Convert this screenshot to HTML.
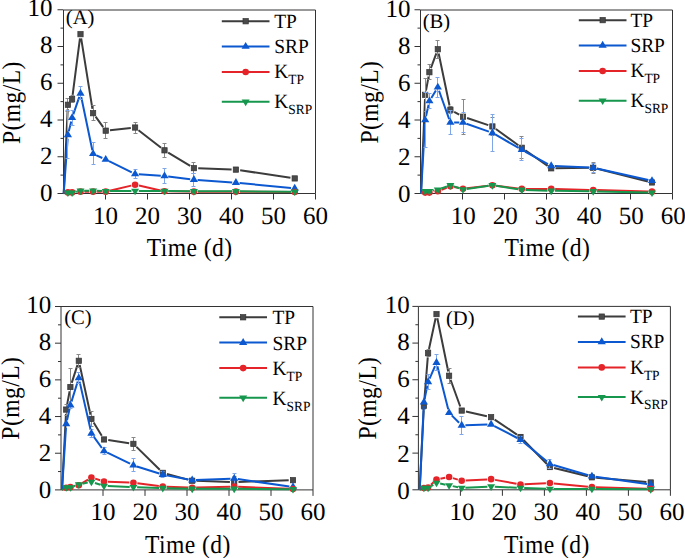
<!DOCTYPE html><html><head><meta charset="utf-8"><style>html,body{margin:0;padding:0;background:#fff;}body{width:685px;height:558px;overflow:hidden;}svg{display:block;}text{font-family:"Liberation Serif", serif;fill:#000;text-rendering:geometricPrecision;}</style></head><body>
<svg width="685" height="558" viewBox="0 0 685 558">
<rect width="685" height="558" fill="#fff"/>
<g id="pA"><path d="M63.5 10H315.5V193.5H63.5Z" stroke="#333" stroke-width="1" fill="none"/><path d="M57.5 193.5H63.5M60.5 175.12H63.5M57.5 156.75H63.5M60.5 138.38H63.5M57.5 120H63.5M60.5 101.62H63.5M57.5 83.25H63.5M60.5 64.88H63.5M57.5 46.5H63.5M60.5 28.12H63.5M57.5 9.75H63.5M105.5 193.5V199.5M147.5 193.5V199.5M189.5 193.5V199.5M231.5 193.5V199.5M273.5 193.5V199.5M315.5 193.5V199.5" stroke="#333" stroke-width="1" fill="none"/><path d="M63.7 193.5L67.7 109.04M72.65 94.79L79.95 38.45M81.18 38.44L92.42 108.95M95.62 116.69L103.18 127.17M109.98 130.2L130.82 127.99M138.5 130.17L161.1 147.68M168.18 152.55L190.22 165.91M198.2 168.29L231.6 169.46M240.15 170.25L290.45 177.79" stroke="#3c3c3c" stroke-width="2" fill="none"/><path d="M67.5 98.5V111.5M65.5 98.5H69.5M65.5 111.5H69.5M72.5 95.5V102.5M70.5 95.5H74.5M70.5 102.5H74.5M93.5 105.5V120.5M91.5 105.5H95.5M91.5 120.5H95.5M105.5 122.5V138.5M103.5 122.5H107.5M103.5 138.5H107.5M135.5 122.5V133.5M133.5 122.5H137.5M133.5 133.5H137.5M164.5 143.5V157.5M162.5 143.5H166.5M162.5 157.5H166.5M193.5 162.5V173.5M191.5 162.5H195.5M191.5 173.5H195.5" stroke="#888888" stroke-width="1" fill="none"/><rect x="65.25" y="102.1" width="5.3" height="5.3" fill="#4a4a4a" stroke="#333" stroke-width="0.7"/><rect x="69.45" y="96.4" width="5.3" height="5.3" fill="#4a4a4a" stroke="#333" stroke-width="0.7"/><rect x="77.85" y="31.54" width="5.3" height="5.3" fill="#4a4a4a" stroke="#333" stroke-width="0.7"/><rect x="90.45" y="110.55" width="5.3" height="5.3" fill="#4a4a4a" stroke="#333" stroke-width="0.7"/><rect x="103.05" y="128.01" width="5.3" height="5.3" fill="#4a4a4a" stroke="#333" stroke-width="0.7"/><rect x="132.45" y="124.88" width="5.3" height="5.3" fill="#4a4a4a" stroke="#333" stroke-width="0.7"/><rect x="161.85" y="147.67" width="5.3" height="5.3" fill="#4a4a4a" stroke="#333" stroke-width="0.7"/><rect x="191.25" y="165.49" width="5.3" height="5.3" fill="#4a4a4a" stroke="#333" stroke-width="0.7"/><rect x="233.25" y="166.96" width="5.3" height="5.3" fill="#4a4a4a" stroke="#333" stroke-width="0.7"/><rect x="292.05" y="175.78" width="5.3" height="5.3" fill="#4a4a4a" stroke="#333" stroke-width="0.7"/><path d="M63.7 193.5L67.64 138.57M68.78 131.29L71.22 121.39M73.3 114.3L79.3 96.86M81.25 96.98L92.35 150.19M96.47 155.33L102.33 157.98M109.02 161.14L131.78 172.38M138.79 174.28L160.81 175.79M168.17 176.5L190.23 179.26M197.59 179.98L232.21 182.4M239.58 183.02L291.02 188" stroke="#0C58D0" stroke-width="2" fill="none"/><path d="M67.5 110.5V158.5M65.5 110.5H69.5M65.5 158.5H69.5M72.5 110.5V125.5M70.5 110.5H74.5M70.5 125.5H74.5M80.5 86.5V99.5M78.5 86.5H82.5M78.5 99.5H82.5M93.5 142.5V164.5M91.5 142.5H95.5M91.5 164.5H95.5M135.5 169.5V178.5M133.5 169.5H137.5M133.5 178.5H137.5M164.5 168.5V183.5M162.5 168.5H166.5M162.5 183.5H166.5M193.5 173.5V186.5M191.5 173.5H195.5M191.5 186.5H195.5" stroke="#7fa6e8" stroke-width="1" fill="none"/><path d="M67.9 130.28L72 137.18L63.8 137.18Z" fill="#0C58D0"/><path d="M72.1 113.2L76.2 120.09L68 120.09Z" fill="#0C58D0"/><path d="M80.5 88.76L84.6 95.66L76.4 95.66Z" fill="#0C58D0"/><path d="M93.1 149.21L97.2 156.11L89 156.11Z" fill="#0C58D0"/><path d="M105.7 154.91L109.8 161.81L101.6 161.81Z" fill="#0C58D0"/><path d="M135.1 169.42L139.2 176.32L131 176.32Z" fill="#0C58D0"/><path d="M164.5 171.44L168.6 178.34L160.4 178.34Z" fill="#0C58D0"/><path d="M193.9 175.12L198 182.02L189.8 182.02Z" fill="#0C58D0"/><path d="M235.9 178.06L240 184.96L231.8 184.96Z" fill="#0C58D0"/><path d="M294.7 183.75L298.8 190.66L290.6 190.66Z" fill="#0C58D0"/><path d="M84.5 191.66L89.1 191.66M97.1 191.66L101.7 191.66M109.59 190.74L131.21 185.6M139 185.56L160.6 190.42M168.5 191.34L189.9 191.61M197.9 191.66L231.9 191.66M239.9 191.69L290.7 192.01" stroke="#E52429" stroke-width="2" fill="none"/><circle cx="67.9" cy="192.4" r="3.3" fill="#E52429"/><circle cx="72.1" cy="192.4" r="3.3" fill="#E52429"/><circle cx="80.5" cy="191.66" r="3.3" fill="#E52429"/><circle cx="93.1" cy="191.66" r="3.3" fill="#E52429"/><circle cx="105.7" cy="191.66" r="3.3" fill="#E52429"/><circle cx="135.1" cy="184.68" r="3.3" fill="#E52429"/><circle cx="164.5" cy="191.29" r="3.3" fill="#E52429"/><circle cx="193.9" cy="191.66" r="3.3" fill="#E52429"/><circle cx="235.9" cy="191.66" r="3.3" fill="#E52429"/><circle cx="294.7" cy="192.03" r="3.3" fill="#E52429"/><path d="M63.7 193.5L64.29 193.37M75.71 191.79L76.89 191.53M84.2 190.74L89.4 190.74M96.8 190.85L102 191M109.4 191.09L131.4 190.95M138.8 190.93L160.8 190.93M168.2 190.97L190.2 191.25M197.6 191.29L232.2 191.29M239.6 191.32L291 191.64" stroke="#16974D" stroke-width="2" fill="none"/><path d="M67.9 196.98L71.9 190.38L63.9 190.38Z" fill="#16974D"/><path d="M72.1 196.98L76.1 190.38L68.1 190.38Z" fill="#16974D"/><path d="M80.5 195.14L84.5 188.54L76.5 188.54Z" fill="#16974D"/><path d="M93.1 195.14L97.1 188.54L89.1 188.54Z" fill="#16974D"/><path d="M105.7 195.51L109.7 188.91L101.7 188.91Z" fill="#16974D"/><path d="M135.1 195.33L139.1 188.73L131.1 188.73Z" fill="#16974D"/><path d="M164.5 195.33L168.5 188.73L160.5 188.73Z" fill="#16974D"/><path d="M193.9 195.69L197.9 189.09L189.9 189.09Z" fill="#16974D"/><path d="M235.9 195.69L239.9 189.09L231.9 189.09Z" fill="#16974D"/><path d="M294.7 196.06L298.7 189.46L290.7 189.46Z" fill="#16974D"/><text transform="translate(52.6 201.35) scale(1.0 1)" font-size="25" text-anchor="end">0</text><text transform="translate(52.6 164.36) scale(1.0 1)" font-size="25" text-anchor="end">2</text><text transform="translate(52.6 127.37) scale(1.0 1)" font-size="25" text-anchor="end">4</text><text transform="translate(52.6 90.38) scale(1.0 1)" font-size="25" text-anchor="end">6</text><text transform="translate(52.6 53.39) scale(1.0 1)" font-size="25" text-anchor="end">8</text><text transform="translate(52.6 16.4) scale(1.0 1)" font-size="25" text-anchor="end">10</text><text transform="translate(105.5 224) scale(1.0 1)" font-size="25" text-anchor="middle">10</text><text transform="translate(147.5 224) scale(1.0 1)" font-size="25" text-anchor="middle">20</text><text transform="translate(189.5 224) scale(1.0 1)" font-size="25" text-anchor="middle">30</text><text transform="translate(231.5 224) scale(1.0 1)" font-size="25" text-anchor="middle">40</text><text transform="translate(273.5 224) scale(1.0 1)" font-size="25" text-anchor="middle">50</text><text transform="translate(315.5 224) scale(1.0 1)" font-size="25" text-anchor="middle">60</text><text transform="translate(189.72 256.1) scale(0.915 1)" font-size="25.8" text-anchor="middle" letter-spacing="0.45">Time (d)</text><text transform="translate(19.7 102.62) rotate(-90) scale(0.915 1)" font-size="25.8" letter-spacing="0.45" text-anchor="middle">P(mg/L)</text><text transform="translate(65.8 24.05) scale(1.0 1)" font-size="20.6">(A)</text><path d="M221.8 21.25H245.65M245.65 21.25H269.5" stroke="#3c3c3c" stroke-width="2"/><rect x="243" y="18.6" width="5.3" height="5.3" fill="#4a4a4a" stroke="#333" stroke-width="0.7"/><text transform="translate(274.2 27.55) scale(0.96 1)" font-size="20.2">TP</text><path d="M221.8 46.55H245.65M245.65 46.55H269.5" stroke="#0C58D0" stroke-width="2"/><path d="M245.65 41.95L249.75 48.85L241.55 48.85Z" fill="#0C58D0"/><text transform="translate(274.2 52.85) scale(0.96 1)" font-size="20.2">SRP</text><path d="M221.8 72.05H245.65M245.65 72.05H269.5" stroke="#E52429" stroke-width="2"/><circle cx="245.65" cy="72.05" r="3.3" fill="#E52429"/><text transform="translate(274.2 78.35) scale(0.96 1)" font-size="20.2">K<tspan font-size="14" dy="5.9">TP</tspan></text><path d="M221.8 101.75H245.65M245.65 101.75H269.5" stroke="#16974D" stroke-width="2"/><path d="M245.65 106.15L249.65 99.55L241.65 99.55Z" fill="#16974D"/><text transform="translate(274.2 108.05) scale(0.96 1)" font-size="20.2">K<tspan font-size="14" dy="5.9">SRP</tspan></text></g>
<g id="pB"><path d="M420.5 10H672.5V193.5H420.5Z" stroke="#333" stroke-width="1" fill="none"/><path d="M414.5 193.5H420.5M417.5 175.12H420.5M414.5 156.75H420.5M417.5 138.38H420.5M414.5 120H420.5M417.5 101.62H420.5M414.5 83.25H420.5M417.5 64.88H420.5M414.5 46.5H420.5M417.5 28.12H420.5M414.5 9.75H420.5M462.5 193.5V199.5M504.5 193.5V199.5M546.5 193.5V199.5M588.5 193.5V199.5M630.5 193.5V199.5M672.5 193.5V199.5" stroke="#333" stroke-width="1" fill="none"/><path d="M421 193.5L425.02 99.12M425.99 90.6L428.61 76.45M430.88 68.19L436.32 53.29M438.68 53.47L449.52 105.5M454.16 111.79L459.24 114.61M467.08 118.04L488.32 125.08M495.88 128.96L518.32 145.22M525.32 150.21L547.68 165.86M555.5 168.27L588.9 167.83M597.37 168.82L647.83 181.43" stroke="#3c3c3c" stroke-width="2" fill="none"/><path d="M425.5 78.5V111.5M423.5 78.5H427.5M423.5 111.5H427.5M429.5 64.5V79.5M427.5 64.5H431.5M427.5 79.5H431.5M437.5 40.5V58.5M435.5 40.5H439.5M435.5 58.5H439.5M450.5 106.5V113.5M448.5 106.5H452.5M448.5 113.5H452.5M463.5 99.5V134.5M461.5 99.5H465.5M461.5 134.5H465.5M492.5 117.5V135.5M490.5 117.5H494.5M490.5 135.5H494.5M521.5 136.5V158.5M519.5 136.5H523.5M519.5 158.5H523.5M593.5 162.5V173.5M591.5 162.5H595.5M591.5 173.5H595.5" stroke="#888888" stroke-width="1" fill="none"/><rect x="422.55" y="92.18" width="5.3" height="5.3" fill="#4a4a4a" stroke="#333" stroke-width="0.7"/><rect x="426.75" y="69.58" width="5.3" height="5.3" fill="#4a4a4a" stroke="#333" stroke-width="0.7"/><rect x="435.15" y="46.61" width="5.3" height="5.3" fill="#4a4a4a" stroke="#333" stroke-width="0.7"/><rect x="447.75" y="107.06" width="5.3" height="5.3" fill="#4a4a4a" stroke="#333" stroke-width="0.7"/><rect x="460.35" y="114.04" width="5.3" height="5.3" fill="#4a4a4a" stroke="#333" stroke-width="0.7"/><rect x="489.75" y="123.78" width="5.3" height="5.3" fill="#4a4a4a" stroke="#333" stroke-width="0.7"/><rect x="519.15" y="145.1" width="5.3" height="5.3" fill="#4a4a4a" stroke="#333" stroke-width="0.7"/><rect x="548.55" y="165.68" width="5.3" height="5.3" fill="#4a4a4a" stroke="#333" stroke-width="0.7"/><rect x="590.55" y="165.12" width="5.3" height="5.3" fill="#4a4a4a" stroke="#333" stroke-width="0.7"/><rect x="649.35" y="179.82" width="5.3" height="5.3" fill="#4a4a4a" stroke="#333" stroke-width="0.7"/><path d="M421 193.5L424.99 123.69M426 116.39L428.6 104.69M431.33 97.91L435.87 90.45M439.04 90.78L449.16 119.09M454.1 122.57L459.3 122.57M466.49 123.79L488.91 131.64M495.61 134.71L518.59 147.92M525.04 151.55L547.96 164.15M554.9 166.1L589.5 167.61M596.81 168.58L648.39 180.02" stroke="#0C58D0" stroke-width="2" fill="none"/><path d="M425.5 92.5V147.5M423.5 92.5H427.5M423.5 147.5H427.5M429.5 93.5V108.5M427.5 93.5H431.5M427.5 108.5H431.5M437.5 77.5V97.5M435.5 77.5H439.5M435.5 97.5H439.5M450.5 110.5V134.5M448.5 110.5H452.5M448.5 134.5H452.5M463.5 112.5V132.5M461.5 112.5H465.5M461.5 132.5H465.5M492.5 114.5V151.5M490.5 114.5H494.5M490.5 151.5H494.5M521.5 138.5V160.5M519.5 138.5H523.5M519.5 160.5H523.5M593.5 163.5V172.5M591.5 163.5H595.5M591.5 172.5H595.5" stroke="#7fa6e8" stroke-width="1" fill="none"/><path d="M425.2 115.4L429.3 122.3L421.1 122.3Z" fill="#0C58D0"/><path d="M429.4 96.47L433.5 103.37L425.3 103.37Z" fill="#0C58D0"/><path d="M437.8 82.69L441.9 89.59L433.7 89.59Z" fill="#0C58D0"/><path d="M450.4 117.97L454.5 124.87L446.3 124.87Z" fill="#0C58D0"/><path d="M463 117.97L467.1 124.87L458.9 124.87Z" fill="#0C58D0"/><path d="M492.4 128.26L496.5 135.16L488.3 135.16Z" fill="#0C58D0"/><path d="M521.8 145.17L525.9 152.07L517.7 152.07Z" fill="#0C58D0"/><path d="M551.2 161.34L555.3 168.24L547.1 168.24Z" fill="#0C58D0"/><path d="M593.2 163.18L597.3 170.08L589.1 170.08Z" fill="#0C58D0"/><path d="M652 176.22L656.1 183.12L647.9 183.12Z" fill="#0C58D0"/><path d="M441.52 189.83L446.68 187.8M454.33 187.08L459.07 187.98M466.97 188.25L488.43 185.7M496.37 185.73L517.83 188.41M525.8 188.91L547.2 188.91M555.2 189.01L589.2 189.9M597.2 190.12L648 191.55" stroke="#E52429" stroke-width="2" fill="none"/><circle cx="425.2" cy="192.58" r="3.3" fill="#E52429"/><circle cx="429.4" cy="192.58" r="3.3" fill="#E52429"/><circle cx="437.8" cy="191.29" r="3.3" fill="#E52429"/><circle cx="450.4" cy="186.33" r="3.3" fill="#E52429"/><circle cx="463" cy="188.72" r="3.3" fill="#E52429"/><circle cx="492.4" cy="185.23" r="3.3" fill="#E52429"/><circle cx="521.8" cy="188.91" r="3.3" fill="#E52429"/><circle cx="551.2" cy="188.91" r="3.3" fill="#E52429"/><circle cx="593.2" cy="190.01" r="3.3" fill="#E52429"/><circle cx="652" cy="191.66" r="3.3" fill="#E52429"/><path d="M421 193.5L421.98 192.94M433.06 190.55L434.14 190.39M441.28 188.56L446.92 186.5M453.91 186.41L459.49 188.28M466.66 188.93L488.74 185.76M496.06 185.8L518.14 189.25M525.5 189.94L547.5 190.63M554.9 190.79L589.5 191.25M596.9 191.38L648.3 192.5" stroke="#16974D" stroke-width="2" fill="none"/><path d="M425.2 195.51L429.2 188.91L421.2 188.91Z" fill="#16974D"/><path d="M429.4 195.51L433.4 188.91L425.4 188.91Z" fill="#16974D"/><path d="M437.8 194.22L441.8 187.62L433.8 187.62Z" fill="#16974D"/><path d="M450.4 189.63L454.4 183.03L446.4 183.03Z" fill="#16974D"/><path d="M463 193.86L467 187.26L459 187.26Z" fill="#16974D"/><path d="M492.4 189.63L496.4 183.03L488.4 183.03Z" fill="#16974D"/><path d="M521.8 194.22L525.8 187.62L517.8 187.62Z" fill="#16974D"/><path d="M551.2 195.14L555.2 188.54L547.2 188.54Z" fill="#16974D"/><path d="M593.2 195.69L597.2 189.09L589.2 189.09Z" fill="#16974D"/><path d="M652 196.98L656 190.38L648 190.38Z" fill="#16974D"/><text transform="translate(410.4 201.75) scale(1.0 1)" font-size="25" text-anchor="end">0</text><text transform="translate(410.4 164.8) scale(1.0 1)" font-size="25" text-anchor="end">2</text><text transform="translate(410.4 127.85) scale(1.0 1)" font-size="25" text-anchor="end">4</text><text transform="translate(410.4 90.9) scale(1.0 1)" font-size="25" text-anchor="end">6</text><text transform="translate(410.4 53.95) scale(1.0 1)" font-size="25" text-anchor="end">8</text><text transform="translate(410.4 17) scale(1.0 1)" font-size="25" text-anchor="end">10</text><text transform="translate(463.3 224) scale(1.0 1)" font-size="25" text-anchor="middle">10</text><text transform="translate(505.3 224) scale(1.0 1)" font-size="25" text-anchor="middle">20</text><text transform="translate(547.3 224) scale(1.0 1)" font-size="25" text-anchor="middle">30</text><text transform="translate(589.3 224) scale(1.0 1)" font-size="25" text-anchor="middle">40</text><text transform="translate(631.3 224) scale(1.0 1)" font-size="25" text-anchor="middle">50</text><text transform="translate(673.3 224) scale(1.0 1)" font-size="25" text-anchor="middle">60</text><text transform="translate(547.43 256.1) scale(0.915 1)" font-size="25.8" text-anchor="middle" letter-spacing="0.45">Time (d)</text><text transform="translate(377.6 102.12) rotate(-90) scale(0.915 1)" font-size="25.8" letter-spacing="0.45" text-anchor="middle">P(mg/L)</text><text transform="translate(422.7 28.05) scale(1.0 1)" font-size="20.6">(B)</text><path d="M578.8 20.15H602.65M602.65 20.15H626.5" stroke="#3c3c3c" stroke-width="2"/><rect x="600" y="17.5" width="5.3" height="5.3" fill="#4a4a4a" stroke="#333" stroke-width="0.7"/><text transform="translate(630.4 26.55) scale(0.96 1)" font-size="20.2">TP</text><path d="M578.8 45.45H602.65M602.65 45.45H626.5" stroke="#0C58D0" stroke-width="2"/><path d="M602.65 40.85L606.75 47.75L598.55 47.75Z" fill="#0C58D0"/><text transform="translate(630.4 51.85) scale(0.96 1)" font-size="20.2">SRP</text><path d="M578.8 70.95H602.65M602.65 70.95H626.5" stroke="#E52429" stroke-width="2"/><circle cx="602.65" cy="70.95" r="3.3" fill="#E52429"/><text transform="translate(630.4 77.35) scale(0.96 1)" font-size="20.2">K<tspan font-size="14" dy="5.9">TP</tspan></text><path d="M578.8 100.65H602.65M602.65 100.65H626.5" stroke="#16974D" stroke-width="2"/><path d="M602.65 105.05L606.65 98.45L598.65 98.45Z" fill="#16974D"/><text transform="translate(630.4 107.05) scale(0.96 1)" font-size="20.2">K<tspan font-size="14" dy="5.9">SRP</tspan></text></g>
<g id="pC"><path d="M61 306.5H313V489.9H61Z" stroke="#333" stroke-width="1" fill="none"/><path d="M55 489.9H61M58 471.56H61M55 453.22H61M58 434.88H61M55 416.54H61M58 398.2H61M55 379.86H61M58 361.52H61M55 343.18H61M58 324.84H61M55 306.5H61M103 489.9V495.9M145 489.9V495.9M187 489.9V495.9M229 489.9V495.9M271 489.9V495.9M313 489.9V495.9" stroke="#333" stroke-width="1" fill="none"/><path d="M62 489.9L65.98 413.86M66.99 405.34L69.61 391.24M71.71 382.92L77.49 364.88M79.71 364.99L90.49 414.72M93.65 422.59L101.75 435.8M108.25 440.1L129.15 443.23M136.46 446.89L159.74 469.83M166.95 473.96L188.05 479.62M196.5 480.86L229.9 481.88M238.5 481.88L288.7 480.31" stroke="#3c3c3c" stroke-width="2" fill="none"/><path d="M66.5 404.5V415.5M64.5 404.5H68.5M64.5 415.5H68.5M70.5 368.5V405.5M68.5 368.5H72.5M68.5 405.5H72.5M78.5 354.5V367.5M76.5 354.5H80.5M76.5 367.5H80.5M91.5 411.5V426.5M89.5 411.5H93.5M89.5 426.5H93.5M133.5 437.5V450.5M131.5 437.5H135.5M131.5 450.5H135.5M234.5 476.5V487.5M232.5 476.5H236.5M232.5 487.5H236.5" stroke="#888888" stroke-width="1" fill="none"/><rect x="63.55" y="406.92" width="5.3" height="5.3" fill="#4a4a4a" stroke="#333" stroke-width="0.7"/><rect x="67.75" y="384.36" width="5.3" height="5.3" fill="#4a4a4a" stroke="#333" stroke-width="0.7"/><rect x="76.15" y="358.14" width="5.3" height="5.3" fill="#4a4a4a" stroke="#333" stroke-width="0.7"/><rect x="88.75" y="416.27" width="5.3" height="5.3" fill="#4a4a4a" stroke="#333" stroke-width="0.7"/><rect x="101.35" y="436.81" width="5.3" height="5.3" fill="#4a4a4a" stroke="#333" stroke-width="0.7"/><rect x="130.75" y="441.22" width="5.3" height="5.3" fill="#4a4a4a" stroke="#333" stroke-width="0.7"/><rect x="160.15" y="470.19" width="5.3" height="5.3" fill="#4a4a4a" stroke="#333" stroke-width="0.7"/><rect x="189.55" y="478.08" width="5.3" height="5.3" fill="#4a4a4a" stroke="#333" stroke-width="0.7"/><rect x="231.55" y="479.36" width="5.3" height="5.3" fill="#4a4a4a" stroke="#333" stroke-width="0.7"/><rect x="290.35" y="477.53" width="5.3" height="5.3" fill="#4a4a4a" stroke="#333" stroke-width="0.7"/><path d="M62 489.9L65.97 427.57M67.01 420.27L69.59 408.78M71.49 401.63L77.71 381.56M79.62 381.63L90.58 429.8M93.55 436.42L101.85 448.01M107.33 452.64L130.07 463.71M136.93 466.45L159.27 473.56M166.44 475.36L188.56 479.5M195.9 480.03L230.5 478.67M237.86 479.05L289.34 486.44" stroke="#0C58D0" stroke-width="2" fill="none"/><path d="M70.5 401.5V408.5M68.5 401.5H72.5M68.5 408.5H72.5M78.5 372.5V383.5M76.5 372.5H80.5M76.5 383.5H80.5M91.5 429.5V437.5M89.5 429.5H93.5M89.5 437.5H93.5M104.5 447.5V454.5M102.5 447.5H106.5M102.5 454.5H106.5M133.5 458.5V471.5M131.5 458.5H135.5M131.5 471.5H135.5M162.5 471.5V477.5M160.5 471.5H164.5M160.5 477.5H164.5M234.5 473.5V484.5M232.5 473.5H236.5M232.5 484.5H236.5" stroke="#7fa6e8" stroke-width="1" fill="none"/><path d="M66.2 419.28L70.3 426.18L62.1 426.18Z" fill="#0C58D0"/><path d="M70.4 400.57L74.5 407.47L66.3 407.47Z" fill="#0C58D0"/><path d="M78.8 373.43L82.9 380.33L74.7 380.33Z" fill="#0C58D0"/><path d="M91.4 428.81L95.5 435.71L87.3 435.71Z" fill="#0C58D0"/><path d="M104 446.42L108.1 453.32L99.9 453.32Z" fill="#0C58D0"/><path d="M133.4 460.72L137.5 467.62L129.3 467.62Z" fill="#0C58D0"/><path d="M162.8 470.08L166.9 476.98L158.7 476.98Z" fill="#0C58D0"/><path d="M192.2 475.58L196.3 482.48L188.1 482.48Z" fill="#0C58D0"/><path d="M234.2 473.93L238.3 480.83L230.1 480.83Z" fill="#0C58D0"/><path d="M293 482.37L297.1 489.27L288.9 489.27Z" fill="#0C58D0"/><path d="M62 489.9L62.66 489.56M74.31 486.3L74.89 486.17M82.19 483.19L88.01 479.55M95.21 478.65L100.19 480.24M108 481.64L129.4 482.57M137.37 483.27L158.83 486.08M166.8 486.75L188.2 487.55M196.2 487.59L230.2 486.7M238.2 486.76L289 488.82" stroke="#E52429" stroke-width="2" fill="none"/><circle cx="66.2" cy="487.7" r="3.3" fill="#E52429"/><circle cx="70.4" cy="487.15" r="3.3" fill="#E52429"/><circle cx="78.8" cy="485.31" r="3.3" fill="#E52429"/><circle cx="91.4" cy="477.43" r="3.3" fill="#E52429"/><circle cx="104" cy="481.46" r="3.3" fill="#E52429"/><circle cx="133.4" cy="482.75" r="3.3" fill="#E52429"/><circle cx="162.8" cy="486.6" r="3.3" fill="#E52429"/><circle cx="192.2" cy="487.7" r="3.3" fill="#E52429"/><circle cx="234.2" cy="486.6" r="3.3" fill="#E52429"/><circle cx="293" cy="488.98" r="3.3" fill="#E52429"/><path d="M62 489.9L63.04 489.26M73.89 486.11L75.31 485.62M82.43 483.66L87.77 482.57M94.92 482.96L100.48 484.74M107.7 486.03L129.7 486.99M137.1 487.26L159.1 487.95M166.5 488.16L188.5 488.71M195.9 488.8L230.5 488.8M237.9 488.82L289.3 489.14" stroke="#16974D" stroke-width="2" fill="none"/><path d="M66.2 491.73L70.2 485.13L62.2 485.13Z" fill="#16974D"/><path d="M70.4 491.73L74.4 485.13L66.4 485.13Z" fill="#16974D"/><path d="M78.8 488.8L82.8 482.2L74.8 482.2Z" fill="#16974D"/><path d="M91.4 486.23L95.4 479.63L87.4 479.63Z" fill="#16974D"/><path d="M104 490.27L108 483.67L100 483.67Z" fill="#16974D"/><path d="M133.4 491.55L137.4 484.95L129.4 484.95Z" fill="#16974D"/><path d="M162.8 492.47L166.8 485.87L158.8 485.87Z" fill="#16974D"/><path d="M192.2 493.2L196.2 486.6L188.2 486.6Z" fill="#16974D"/><path d="M234.2 493.2L238.2 486.6L230.2 486.6Z" fill="#16974D"/><path d="M293 493.57L297 486.97L289 486.97Z" fill="#16974D"/><text transform="translate(51.2 498.15) scale(1.0 1)" font-size="25" text-anchor="end">0</text><text transform="translate(51.2 461.05) scale(1.0 1)" font-size="25" text-anchor="end">2</text><text transform="translate(51.2 423.95) scale(1.0 1)" font-size="25" text-anchor="end">4</text><text transform="translate(51.2 386.85) scale(1.0 1)" font-size="25" text-anchor="end">6</text><text transform="translate(51.2 349.75) scale(1.0 1)" font-size="25" text-anchor="end">8</text><text transform="translate(51.2 312.65) scale(1.0 1)" font-size="25" text-anchor="end">10</text><text transform="translate(103 520.4) scale(1.0 1)" font-size="25" text-anchor="middle">10</text><text transform="translate(145 520.4) scale(1.0 1)" font-size="25" text-anchor="middle">20</text><text transform="translate(187 520.4) scale(1.0 1)" font-size="25" text-anchor="middle">30</text><text transform="translate(229 520.4) scale(1.0 1)" font-size="25" text-anchor="middle">40</text><text transform="translate(271 520.4) scale(1.0 1)" font-size="25" text-anchor="middle">50</text><text transform="translate(313 520.4) scale(1.0 1)" font-size="25" text-anchor="middle">60</text><text transform="translate(187.92 552.5) scale(0.915 1)" font-size="25.8" text-anchor="middle" letter-spacing="0.45">Time (d)</text><text transform="translate(18.5 398.2) rotate(-90) scale(0.915 1)" font-size="25.8" letter-spacing="0.45" text-anchor="middle">P(mg/L)</text><text transform="translate(64.2 323.9) scale(1.0 1)" font-size="20.6">(C)</text><path d="M219.3 317.3H243.15M243.15 317.3H267" stroke="#3c3c3c" stroke-width="2"/><rect x="240.5" y="314.65" width="5.3" height="5.3" fill="#4a4a4a" stroke="#333" stroke-width="0.7"/><text transform="translate(272.5 324.3) scale(0.96 1)" font-size="20.2">TP</text><path d="M219.3 342.6H243.15M243.15 342.6H267" stroke="#0C58D0" stroke-width="2"/><path d="M243.15 338L247.25 344.9L239.05 344.9Z" fill="#0C58D0"/><text transform="translate(272.5 349.6) scale(0.96 1)" font-size="20.2">SRP</text><path d="M219.3 368.1H243.15M243.15 368.1H267" stroke="#E52429" stroke-width="2"/><circle cx="243.15" cy="368.1" r="3.3" fill="#E52429"/><text transform="translate(272.5 375.1) scale(0.96 1)" font-size="20.2">K<tspan font-size="14" dy="5.9">TP</tspan></text><path d="M219.3 397.8H243.15M243.15 397.8H267" stroke="#16974D" stroke-width="2"/><path d="M243.15 402.2L247.15 395.6L239.15 395.6Z" fill="#16974D"/><text transform="translate(272.5 404.8) scale(0.96 1)" font-size="20.2">K<tspan font-size="14" dy="5.9">SRP</tspan></text></g>
<g id="pD"><path d="M418.4 306.4H670.4V489.8H418.4Z" stroke="#333" stroke-width="1" fill="none"/><path d="M412.4 489.8H418.4M415.4 471.46H418.4M412.4 453.12H418.4M415.4 434.78H418.4M412.4 416.44H418.4M415.4 398.1H418.4M412.4 379.76H418.4M415.4 361.42H418.4M412.4 343.08H418.4M415.4 324.74H418.4M412.4 306.4H418.4M460.4 489.8V495.8M502.4 489.8V495.8M544.4 489.8V495.8M586.4 489.8V495.8M628.4 489.8V495.8M670.4 489.8V495.8" stroke="#333" stroke-width="1" fill="none"/><path d="M419.7 489.8L423.68 410.28M424.24 401.7L427.76 357.45M429 348.96L435.6 318.31M437.36 318.32L448.24 371.51M450.56 379.77L460.24 406.53M465.9 411.51L486.9 416.23M494.67 419.58L516.93 434.58M523.51 440.06L546.89 463.98M554.08 468.08L587.72 476.31M596.18 477.7L646.42 482.09" stroke="#3c3c3c" stroke-width="2" fill="none"/><path d="M423.5 402.5V409.5M421.5 402.5H425.5M421.5 409.5H425.5M428.5 349.5V356.5M426.5 349.5H430.5M426.5 356.5H430.5M449.5 368.5V383.5M447.5 368.5H451.5M447.5 383.5H451.5M520.5 434.5V439.5M518.5 434.5H522.5M518.5 439.5H522.5M549.5 464.5V469.5M547.5 464.5H551.5M547.5 469.5H551.5" stroke="#888888" stroke-width="1" fill="none"/><rect x="421.25" y="403.34" width="5.3" height="5.3" fill="#4a4a4a" stroke="#333" stroke-width="0.7"/><rect x="425.45" y="350.52" width="5.3" height="5.3" fill="#4a4a4a" stroke="#333" stroke-width="0.7"/><rect x="433.85" y="311.45" width="5.3" height="5.3" fill="#4a4a4a" stroke="#333" stroke-width="0.7"/><rect x="446.45" y="373.08" width="5.3" height="5.3" fill="#4a4a4a" stroke="#333" stroke-width="0.7"/><rect x="459.05" y="407.92" width="5.3" height="5.3" fill="#4a4a4a" stroke="#333" stroke-width="0.7"/><rect x="488.45" y="414.52" width="5.3" height="5.3" fill="#4a4a4a" stroke="#333" stroke-width="0.7"/><rect x="517.85" y="434.33" width="5.3" height="5.3" fill="#4a4a4a" stroke="#333" stroke-width="0.7"/><rect x="547.25" y="464.41" width="5.3" height="5.3" fill="#4a4a4a" stroke="#333" stroke-width="0.7"/><rect x="589.25" y="474.68" width="5.3" height="5.3" fill="#4a4a4a" stroke="#333" stroke-width="0.7"/><rect x="648.05" y="479.81" width="5.3" height="5.3" fill="#4a4a4a" stroke="#333" stroke-width="0.7"/><path d="M419.7 489.8L423.72 406.01M424.65 398.69L427.35 385.58M429.58 378.57L435.02 366.1M437.4 366.29L448.2 409.18M451.71 415.39L459.09 422.8M465.4 425.29L487.4 424.46M494.38 426.04L517.22 438.01M523.36 442.08L547.04 461.59M553.45 464.98L588.35 475.19M595.56 476.74L647.04 483.97" stroke="#0C58D0" stroke-width="2" fill="none"/><path d="M428.5 374.5V389.5M426.5 374.5H430.5M426.5 389.5H430.5M436.5 354.5V370.5M434.5 354.5H438.5M434.5 370.5H438.5M461.5 416.5V434.5M459.5 416.5H463.5M459.5 434.5H463.5M520.5 436.5V443.5M518.5 436.5H522.5M518.5 443.5H522.5M549.5 459.5V468.5M547.5 459.5H551.5M547.5 468.5H551.5" stroke="#7fa6e8" stroke-width="1" fill="none"/><path d="M423.9 397.72L428 404.62L419.8 404.62Z" fill="#0C58D0"/><path d="M428.1 377.36L432.2 384.26L424 384.26Z" fill="#0C58D0"/><path d="M436.5 358.1L440.6 365L432.4 365Z" fill="#0C58D0"/><path d="M449.1 408.17L453.2 415.07L445 415.07Z" fill="#0C58D0"/><path d="M461.7 420.83L465.8 427.73L457.6 427.73Z" fill="#0C58D0"/><path d="M491.1 419.73L495.2 426.63L487 426.63Z" fill="#0C58D0"/><path d="M520.5 435.13L524.6 442.03L516.4 442.03Z" fill="#0C58D0"/><path d="M549.9 459.34L554 466.24L545.8 466.24Z" fill="#0C58D0"/><path d="M591.9 471.63L596 478.53L587.8 478.53Z" fill="#0C58D0"/><path d="M650.7 479.88L654.8 486.78L646.6 486.78Z" fill="#0C58D0"/><path d="M419.7 489.8L420.23 489.57M430.98 484.83L433.62 482.3M440.42 478.73L445.18 477.76M452.93 478.13L457.87 479.64M465.69 480.59L487.11 479.39M495.04 479.87L516.56 483.77M524.5 484.28L545.9 483.21M553.88 483.4L587.92 486.67M595.9 487.17L646.7 488.76" stroke="#E52429" stroke-width="2" fill="none"/><circle cx="423.9" cy="487.97" r="3.3" fill="#E52429"/><circle cx="428.1" cy="487.6" r="3.3" fill="#E52429"/><circle cx="436.5" cy="479.53" r="3.3" fill="#E52429"/><circle cx="449.1" cy="476.96" r="3.3" fill="#E52429"/><circle cx="461.7" cy="480.81" r="3.3" fill="#E52429"/><circle cx="491.1" cy="479.16" r="3.3" fill="#E52429"/><circle cx="520.5" cy="484.48" r="3.3" fill="#E52429"/><circle cx="549.9" cy="483.01" r="3.3" fill="#E52429"/><circle cx="591.9" cy="487.05" r="3.3" fill="#E52429"/><circle cx="650.7" cy="488.88" r="3.3" fill="#E52429"/><path d="M419.7 489.8L420.51 489.45M431.26 486.04L433.34 484.76M440.13 483.57L445.47 484.66M452.73 486.14L458.07 487.23M465.4 487.78L487.4 486.68M494.8 486.68L516.8 487.78M524.2 488.08L546.2 488.77M553.6 488.88L588.2 488.88M595.6 488.91L647 489.23" stroke="#16974D" stroke-width="2" fill="none"/><path d="M423.9 492.37L427.9 485.77L419.9 485.77Z" fill="#16974D"/><path d="M428.1 492.37L432.1 485.77L424.1 485.77Z" fill="#16974D"/><path d="M436.5 487.23L440.5 480.63L432.5 480.63Z" fill="#16974D"/><path d="M449.1 489.8L453.1 483.2L445.1 483.2Z" fill="#16974D"/><path d="M461.7 492.37L465.7 485.77L457.7 485.77Z" fill="#16974D"/><path d="M491.1 490.9L495.1 484.3L487.1 484.3Z" fill="#16974D"/><path d="M520.5 492.37L524.5 485.77L516.5 485.77Z" fill="#16974D"/><path d="M549.9 493.28L553.9 486.68L545.9 486.68Z" fill="#16974D"/><path d="M591.9 493.28L595.9 486.68L587.9 486.68Z" fill="#16974D"/><path d="M650.7 493.65L654.7 487.05L646.7 487.05Z" fill="#16974D"/><text transform="translate(409.8 498.65) scale(1.0 1)" font-size="25" text-anchor="end">0</text><text transform="translate(409.8 461.51) scale(1.0 1)" font-size="25" text-anchor="end">2</text><text transform="translate(409.8 424.37) scale(1.0 1)" font-size="25" text-anchor="end">4</text><text transform="translate(409.8 387.23) scale(1.0 1)" font-size="25" text-anchor="end">6</text><text transform="translate(409.8 350.09) scale(1.0 1)" font-size="25" text-anchor="end">8</text><text transform="translate(409.8 312.95) scale(1.0 1)" font-size="25" text-anchor="end">10</text><text transform="translate(461.9 520.3) scale(1.0 1)" font-size="25" text-anchor="middle">10</text><text transform="translate(503.9 520.3) scale(1.0 1)" font-size="25" text-anchor="middle">20</text><text transform="translate(545.9 520.3) scale(1.0 1)" font-size="25" text-anchor="middle">30</text><text transform="translate(587.9 520.3) scale(1.0 1)" font-size="25" text-anchor="middle">40</text><text transform="translate(629.9 520.3) scale(1.0 1)" font-size="25" text-anchor="middle">50</text><text transform="translate(671.9 520.3) scale(1.0 1)" font-size="25" text-anchor="middle">60</text><text transform="translate(546.83 552.9) scale(0.915 1)" font-size="25.8" text-anchor="middle" letter-spacing="0.45">Time (d)</text><text transform="translate(376.3 398.1) rotate(-90) scale(0.915 1)" font-size="25.8" letter-spacing="0.45" text-anchor="middle">P(mg/L)</text><text transform="translate(445.9 324.6) scale(1.0 1)" font-size="20.6">(D)</text><path d="M577.9 316.6H601.75M601.75 316.6H625.6" stroke="#3c3c3c" stroke-width="2"/><rect x="599.1" y="313.95" width="5.3" height="5.3" fill="#4a4a4a" stroke="#333" stroke-width="0.7"/><text transform="translate(629.9 323) scale(0.96 1)" font-size="20.2">TP</text><path d="M577.9 341.9H601.75M601.75 341.9H625.6" stroke="#0C58D0" stroke-width="2"/><path d="M601.75 337.3L605.85 344.2L597.65 344.2Z" fill="#0C58D0"/><text transform="translate(629.9 348.3) scale(0.96 1)" font-size="20.2">SRP</text><path d="M577.9 367.4H601.75M601.75 367.4H625.6" stroke="#E52429" stroke-width="2"/><circle cx="601.75" cy="367.4" r="3.3" fill="#E52429"/><text transform="translate(629.9 373.8) scale(0.96 1)" font-size="20.2">K<tspan font-size="14" dy="5.9">TP</tspan></text><path d="M577.9 397.1H601.75M601.75 397.1H625.6" stroke="#16974D" stroke-width="2"/><path d="M601.75 401.5L605.75 394.9L597.75 394.9Z" fill="#16974D"/><text transform="translate(629.9 403.5) scale(0.96 1)" font-size="20.2">K<tspan font-size="14" dy="5.9">SRP</tspan></text></g>
</svg></body></html>
